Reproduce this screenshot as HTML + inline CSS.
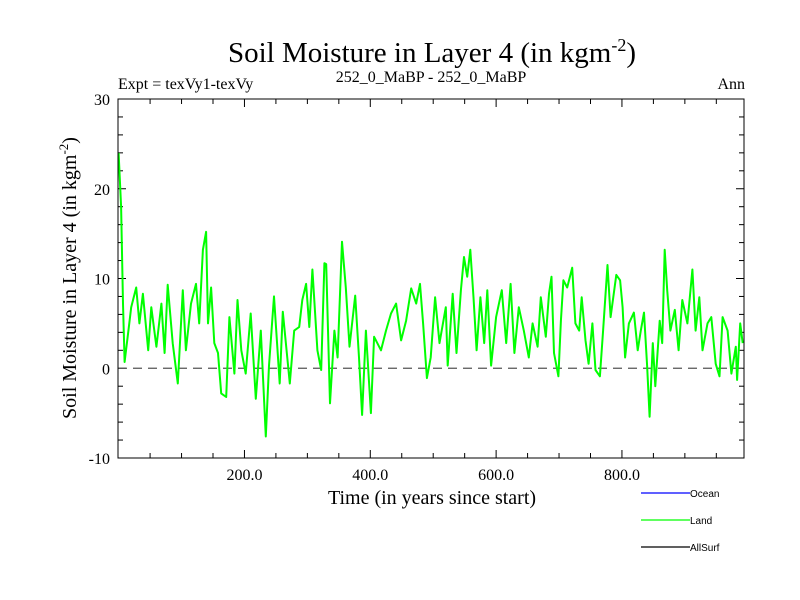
<!DOCTYPE html>
<html><head><meta charset="utf-8"><style>
html,body{margin:0;padding:0;background:#fff;}
svg{display:block;font-family:"Liberation Serif",serif;}
</style></head><body>
<svg id="chart" width="800" height="600" viewBox="0 0 800 600">
<rect width="800" height="600" fill="#fff"/>
<text x="432" y="62" font-size="29" text-anchor="middle">Soil Moisture in Layer 4 (in kgm<tspan dy="-11" font-size="18">-2</tspan><tspan dy="11">)</tspan></text>
<text x="118" y="89" font-size="16">Expt = texVy1-texVy</text>
<text x="431" y="82" font-size="16" text-anchor="middle">252_0_MaBP - 252_0_MaBP</text>
<text x="745" y="89" font-size="16" text-anchor="end">Ann</text>
<g id="ticks"></g>
<g id="series"></g>
<rect x="118" y="99" width="626" height="359" fill="none" stroke="#000" stroke-width="1"/>
<text x="432" y="504" font-size="20" text-anchor="middle">Time (in years since start)</text>
<text transform="translate(76,278) rotate(-90)" font-size="20" text-anchor="middle">Soil Moisture in Layer 4 (in kgm<tspan dy="-8" font-size="13">-2</tspan><tspan dy="8">)</tspan></text>
<g font-family="Liberation Sans,sans-serif" font-size="10">
<line x1="641" y1="493" x2="690" y2="493" stroke="#0000ff" stroke-width="1.2"/>
<text x="690" y="497">Ocean</text>
<line x1="641" y1="520" x2="690" y2="520" stroke="#00ff00" stroke-width="1.2"/>
<text x="690" y="524">Land</text>
<line x1="641" y1="547" x2="690" y2="547" stroke="#000" stroke-width="1.2"/>
<text x="690" y="551">AllSurf</text>
</g>
</svg>
<script>
const years = [0,4,7,9.5,15,20,28,33,38.6,47,52,60,68,73,78,86,94,102,107,115,123,128,134,139,142,147,152,158,163,171,176,184,189,195,202,210,218,226,234,239,247,256,261,272,279,287,292,298,303,308,316,322,327,330,336,343,348,355,361,367,376,382,387,393,401,406,417,425,433,441,449,457,465,473,479,484,490,496,503,510,520,523,531,537,544,549,554,559,564,569,575,581,586,592,600,609,616,623,629,636,644,652,658,666,671,679,684,688,692,699,703,707,713,721,726,732,736,742,747,753,758,765,770,777,782,791,797,801,805,811,819,825,830,835,840,844,849,853,860,864,868,872,877,884,890,896,904,912,917,923,928,936,942,949,955,960,968,974,981,983,988,992];
const landValues = [24,18,7.2,0.7,3.9,6.8,9,5,8.3,2,6.8,2.4,7.2,1.7,9.3,2.8,-1.7,8.7,2,7.2,9.4,5,13.2,15.2,5,9,2.8,1.7,-2.8,-3.2,5.7,-0.6,7.6,2,-0.6,6.1,-3.4,4.2,-7.6,0.3,8,-1.7,6.3,-1.7,4.2,4.6,7.6,9.4,4.6,11,2,-0.2,11.7,11.6,-3.9,4.2,1.2,14.1,9,2.4,8.1,1.2,-5.2,4.2,-5,3.5,2,4.2,6.1,7.2,3.1,5.3,8.9,7.2,9.4,5,-1.1,1.2,7.9,2.8,6.8,0.3,8.3,1.7,8.7,12.4,10.2,13.2,7.9,2,7.9,2.8,8.7,0.3,5.7,8.7,2.8,9.4,1.7,6.8,4.2,1.2,5,2.4,7.9,3.5,8.3,10.2,1.7,-0.9,5.3,9.8,9,11.2,5,4.2,7.9,3.1,0.5,5,-0.2,-0.9,4.2,11.5,5.7,10.4,9.8,6.8,1.2,5,6.2,2,4.2,6.2,0.3,-5.4,2.8,-2,5.3,2.8,13.2,8.7,4.2,6.5,2,7.6,5,11,4.2,7.9,2,5,5.7,0.5,-0.9,5.7,4.2,-0.6,2.4,-1.3,5,2.8];
const xTickLabels = [200,400,600,800];
const yTickLabels = [-10,0,10,20,30];

const X0=118,X1=744,Y0=458,Y1=99,XMIN=-1,XMAX=994,YMIN=-10,YMAX=30;
function sx(v){return X0+(v-XMIN)/(XMAX-XMIN)*(X1-X0);}
function sy(v){return Y0-(v-YMIN)/(YMAX-YMIN)*(Y0-Y1);}
const NS='http://www.w3.org/2000/svg';
const svg=document.getElementById('chart');
const tg=document.getElementById('ticks');
function mk(tag,attrs,parent){const e=document.createElementNS(NS,tag);for(const k in attrs)e.setAttribute(k,attrs[k]);parent.appendChild(e);return e;}
for(let v=50;v<XMAX;v+=50){
  const x=sx(v),len=(v%200===0)?8:5;
  const t1=mk('line',{x1:x,y1:Y0,x2:x,y2:Y0-len,stroke:'#000'},tg);
  
  
  const t2=mk('line',{x1:x,y1:Y1,x2:x,y2:Y1+len,stroke:'#000'},tg);
  
  
}
xTickLabels.forEach(v=>{
  const t=mk('text',{x:sx(v),y:Y0+22,'font-size':16,'text-anchor':'middle'},svg);
  t.textContent=v.toFixed(1);
  
  
});
for(let v=YMIN+2;v<YMAX;v+=2){
  const y=sy(v),len=(v%10===0)?8:5;
  const t1=mk('line',{x1:X0,y1:y,x2:X0+len,y2:y,stroke:'#000'},tg);
  
  
  const t2=mk('line',{x1:X1,y1:y,x2:X1-len,y2:y,stroke:'#000'},tg);
  
  
}
yTickLabels.forEach(v=>{
  const t=mk('text',{x:X0-8,y:sy(v)+6,'font-size':16,'text-anchor':'end'},svg);
  t.textContent=v;
  
  
});
const sg=document.getElementById('series');
const zl=mk('line',{x1:X0,y1:sy(0),x2:X1,y2:sy(0),stroke:'#555','stroke-width':1.2,'stroke-dasharray':'9,6'},sg);


const pts=years.map((y,i)=>sx(y).toFixed(1)+','+sy(landValues[i]).toFixed(1)).join(' ');
const pl=mk('polyline',{points:pts,fill:'none',stroke:'#00ff00','stroke-width':2,'stroke-linejoin':'round'},sg);


</script>
</body></html>
